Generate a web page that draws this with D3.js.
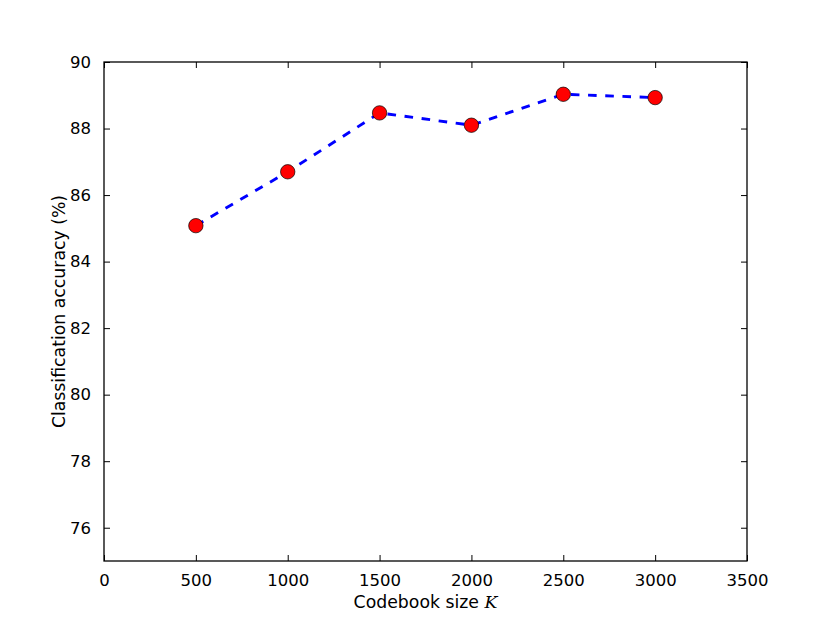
<!DOCTYPE html>
<html><head><meta charset="utf-8">
<script src="https://cdn.jsdelivr.net/npm/d3@7"></script>
<style>body{margin:0;background:#fff}svg{display:block}text{font-family:"DejaVu Sans",sans-serif}</style>
</head><body>
<script>
const codebookSizes = [500, 1000, 1500, 2000, 2500, 3000];
const accuracy = [85.08, 86.7, 88.47, 88.1, 89.03, 88.93];
const xTicks = [0, 500, 1000, 1500, 2000, 2500, 3000, 3500];
const yTicks = [76, 78, 80, 82, 84, 86, 88, 90];

const W = 830, H = 623;
const m = {left: 104, right: 830 - 747, top: 62, bottom: 623 - 561};
const svg = d3.select("body").append("svg").attr("width", W).attr("height", H);
const x = d3.scaleLinear().domain([0, 3500]).range([m.left, W - m.right]);
const y = d3.scaleLinear().domain([75, 90]).range([H - m.bottom, m.top]);
const fs = "16.5px";
const lfs = "17.3px";
const tl = 6;

function styleAxis(g, labels) {
  g.select(".domain").remove();
  g.selectAll("line").attr("stroke", "#000").attr("stroke-width", 1);
  g.selectAll("text").attr("font-size", fs).attr("fill", "#000");
  if (!labels) g.selectAll("text").remove();
}
svg.append("g").attr("transform", `translate(0,${y(75)})`)
  .call(d3.axisBottom(x).tickValues(xTicks).tickSize(-tl).tickPadding(tl + 7).tickFormat(d3.format("d")))
  .call(g => styleAxis(g, true));
svg.append("g").attr("transform", `translate(0,${y(90)})`)
  .call(d3.axisTop(x).tickValues(xTicks).tickSize(-tl))
  .call(g => styleAxis(g, false));
svg.append("g").attr("transform", `translate(${x(0)},0)`)
  .call(d3.axisLeft(y).tickValues(yTicks).tickSize(-tl).tickPadding(tl + 7).tickFormat(d3.format("d")))
  .call(g => styleAxis(g, true));
svg.append("g").attr("transform", `translate(${x(3500)},0)`)
  .call(d3.axisRight(y).tickValues(yTicks).tickSize(-tl))
  .call(g => styleAxis(g, false));

svg.append("rect").attr("x", x(0)).attr("y", y(90)).attr("width", x(3500) - x(0)).attr("height", y(75) - y(90))
  .attr("fill", "none").attr("stroke", "#000").attr("stroke-width", 1.3);

const data = codebookSizes.map((k, i) => ({k, a: accuracy[i]}));
svg.append("path").datum(data)
  .attr("d", d3.line().x(d => x(d.k)).y(d => y(d.a)))
  .attr("fill", "none").attr("stroke", "#0000ff").attr("stroke-width", 2.9).attr("stroke-dasharray", "8.6,8.6");
svg.selectAll("circle.pt").data(data).join("circle").attr("class", "pt")
  .attr("cx", d => x(d.k)).attr("cy", d => y(d.a)).attr("r", 7.2)
  .attr("fill", "#ff0000").attr("stroke", "#000").attr("stroke-width", 0.7);

const xl = svg.append("text").attr("x", (x(0) + x(3500)) / 2).attr("y", 608).attr("text-anchor", "middle").attr("font-size", lfs);
xl.append("tspan").text("Codebook size ");
xl.append("tspan").attr("font-family", "DejaVu Serif").attr("font-style", "italic").text("K");
svg.append("text").attr("transform", `translate(65,${(y(75) + y(90)) / 2}) rotate(-90)`)
  .attr("text-anchor", "middle").attr("font-size", lfs).text("Classification accuracy (%)");
</script>
</body></html>
